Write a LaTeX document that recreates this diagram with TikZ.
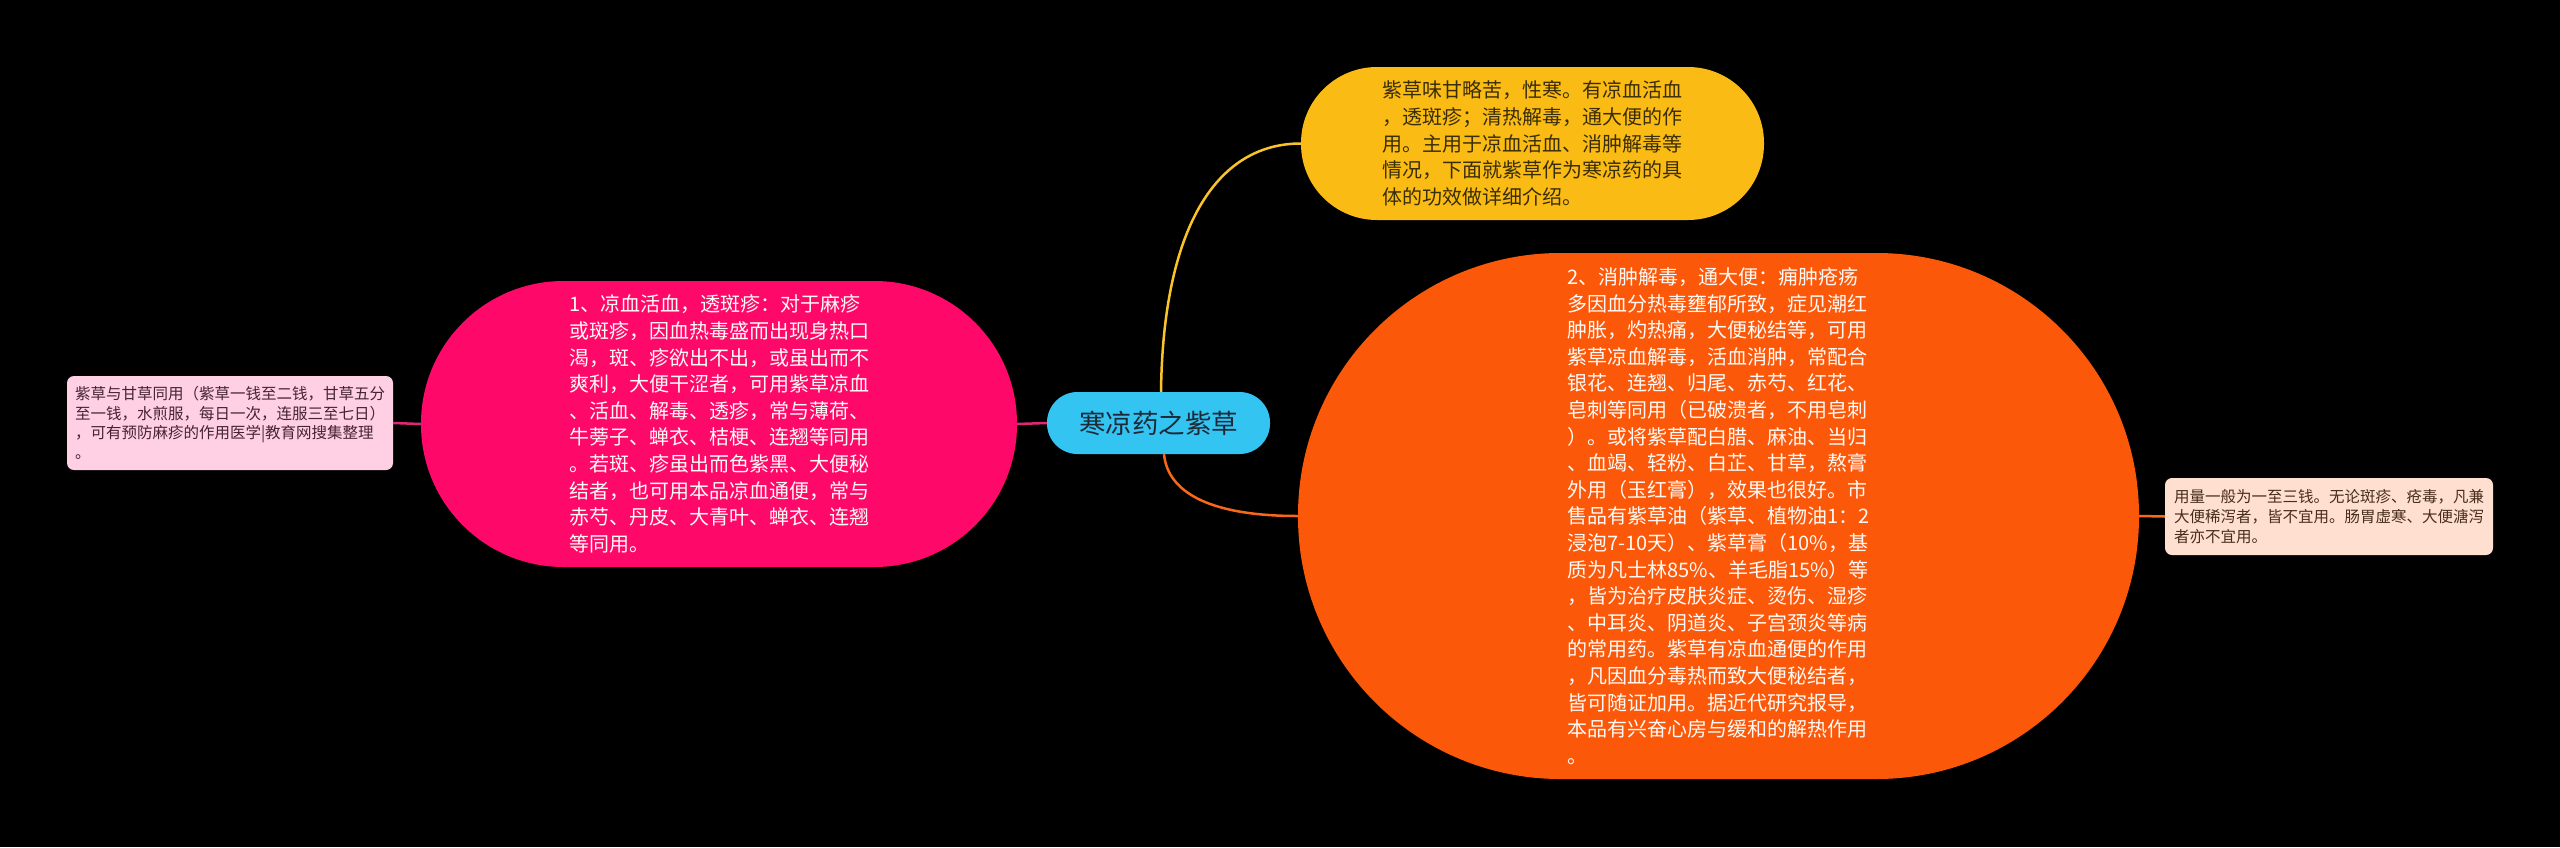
\documentclass[tikz,border=0pt]{standalone}
\usepackage{fontspec}
\setmainfont{Noto Sans CJK SC}
\definecolor{bgc}{RGB}{0,0,0}
\definecolor{cblue}{RGB}{51,196,242}
\definecolor{cbluetxt}{RGB}{30,42,56}
\definecolor{cyellow}{RGB}{250,188,20}
\definecolor{cyellowtxt}{RGB}{58,45,5}
\definecolor{cyellowln}{RGB}{250,196,40}
\definecolor{cpink}{RGB}{254,8,106}
\definecolor{cpinkln}{RGB}{222,40,118}
\definecolor{corange}{RGB}{252,88,10}
\definecolor{corangeln}{RGB}{248,104,24}
\definecolor{clpink}{RGB}{255,208,228}
\definecolor{clpinktxt}{RGB}{70,35,50}
\definecolor{cpeach}{RGB}{255,224,208}
\definecolor{cpeachtxt}{RGB}{70,45,30}
\definecolor{cwhitetxt}{RGB}{255,250,245}
\tikzset{
  pill/.style={inner sep=0pt, align=left},
  bigtxt/.style={font=\fontsize{20pt}{26.6pt}\selectfont},
  smalltxt/.style={font=\fontsize{15.5pt}{19.6pt}\selectfont},
  conn/.style={line width=2.5pt},
}
\begin{document}
\begin{tikzpicture}[x=1pt,y=-1pt]
\fill[bgc] (0,0) rectangle (2560,847);
\useasboundingbox (0,0) rectangle (2560,847);

% central node
\node[pill, fill=cblue, text=cbluetxt, rounded corners=30.5pt,
  minimum width=223pt, minimum height=62pt,
  font=\fontsize{26.5pt}{30pt}\selectfont] (center) at (1158.5,423) {寒凉药之紫草};

% yellow node
\node[pill, bigtxt, fill=cyellow, text=cyellowtxt, rounded corners=76pt,
  minimum width=463pt, minimum height=153pt] (yellow) at (1532.5,143.5) {%
紫草味甘略苦，性寒。有凉血活血\\
，透斑疹；清热解毒，通大便的作\\
用。主用于凉血活血、消肿解毒等\\
情况，下面就紫草作为寒凉药的具\\
体的功效做详细介绍。};

% pink node
\node[pill, bigtxt, fill=cpink, text=cwhitetxt, rounded corners=142.5pt,
  minimum width=596pt, minimum height=286pt] (pink) at (719,424) {%
1、凉血活血，透斑疹：对于麻疹\\
或斑疹，因血热毒盛而出现身热口\\
渴，斑、疹欲出不出，或虽出而不\\
爽利，大便干涩者，可用紫草凉血\\
、活血、解毒、透疹，常与薄荷、\\
牛蒡子、蝉衣、桔梗、连翘等同用\\
。若斑、疹虽出而色紫黑、大便秘\\
结者，也可用本品凉血通便，常与\\
赤芍、丹皮、大青叶、蝉衣、连翘\\
等同用。};

% orange node
\node[pill, bigtxt, fill=corange, text=cwhitetxt, rounded corners=262.5pt,
  minimum width=841pt, minimum height=526pt] (orange) at (1718.5,516) {%
2、消肿解毒，通大便：痈肿疮疡\\
多因血分热毒壅郁所致，症见潮红\\
肿胀，灼热痛，大便秘结等，可用\\
紫草凉血解毒，活血消肿，常配合\\
银花、连翘、归尾、赤芍、红花、\\
皂刺等同用（已破溃者，不用皂刺\\
）。或将紫草配白腊、麻油、当归\\
、血竭、轻粉、白芷、甘草，熬膏\\
外用（玉红膏），效果也很好。市\\
售品有紫草油（紫草、植物油1：2\\
浸泡7-10天）、紫草膏（10\%，基\\
质为凡士林85\%、羊毛脂15\%）等\\
，皆为治疗皮肤炎症、烫伤、湿疹\\
、中耳炎、阴道炎、子宫颈炎等病\\
的常用药。紫草有凉血通便的作用\\
，凡因血分毒热而致大便秘结者，\\
皆可随证加用。据近代研究报导，\\
本品有兴奋心房与缓和的解热作用\\
。};

% left small node
\node[pill, smalltxt, fill=clpink, text=clpinktxt, rounded corners=7pt,
  minimum width=326pt, minimum height=94pt] (leftnote) at (230,423) {%
紫草与甘草同用（紫草一钱至二钱，甘草五分\\
至一钱，水煎服，每日一次，连服三至七日）\\
，可有预防麻疹的作用医学|教育网搜集整理\\
。};

% right small node
\node[pill, smalltxt, fill=cpeach, text=cpeachtxt, rounded corners=7pt,
  minimum width=328pt, minimum height=77pt] (rightnote) at (2329,516.5) {%
用量一般为一至三钱。无论斑疹、疮毒，凡兼\\
大便稀泻者，皆不宜用。肠胃虚寒、大便溏泻\\
者亦不宜用。};

% connectors
\draw[conn, cyellowln] ([xshift=2.5pt]center.north) .. controls (1163,230) and (1215,143.5) .. (yellow.west);
\draw[conn, corangeln] ([xshift=5.5pt]center.south) .. controls (1168,495) and (1215,516) .. (orange.west);
\draw[conn, cpinkln] (center.west) -- (pink.east);
\draw[conn, cpinkln] (pink.west) -- (leftnote.east);
\draw[conn, corangeln] (orange.east) -- (rightnote.west);
\end{tikzpicture}
\end{document}
